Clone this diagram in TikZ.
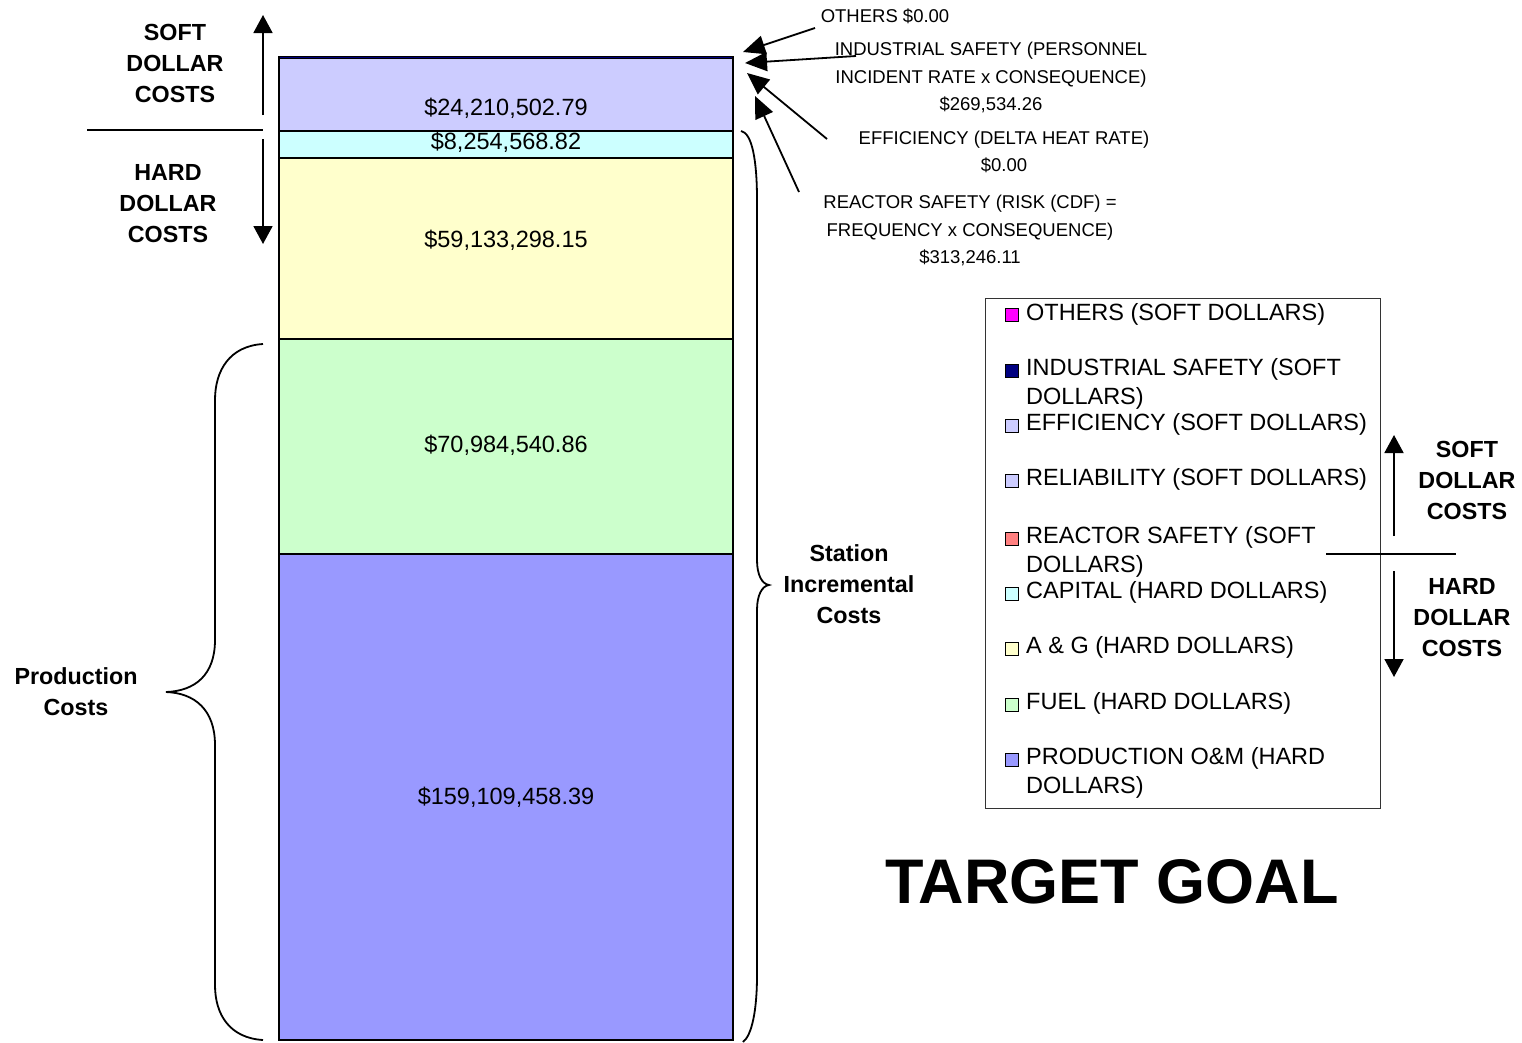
\documentclass[tikz,border=0pt]{standalone}
\usepackage{fontspec}
\setmainfont{Liberation Sans}
\usetikzlibrary{arrows.meta}

\definecolor{cOthers}{HTML}{FF00FF}
\definecolor{cIndSafety}{HTML}{000080}
\definecolor{cSoft}{HTML}{CCCCFF}
\definecolor{cReactor}{HTML}{FF8080}
\definecolor{cCapital}{HTML}{CCFFFF}
\definecolor{cAG}{HTML}{FFFFCC}
\definecolor{cFuel}{HTML}{CCFFCC}
\definecolor{cProdOM}{HTML}{9999FF}

\begin{document}
\begin{tikzpicture}[x=1pt,y=-1pt,
  seg/.style={draw=black, line width=1.6pt, inner sep=0pt, outer sep=0pt, minimum width=454pt},
  val/.style={font=\fontsize{23.5}{28}\selectfont, inner sep=0pt},
  note/.style={font=\fontsize{18.5}{27.5}\selectfont, align=center, inner sep=0pt},
  side/.style={font=\fontsize{23.3}{31}\selectfont\bfseries, align=center, inner sep=0pt},
  legtext/.style={font=\fontsize{23.5}{29}\selectfont, align=left, anchor=west, inner sep=0pt},
  mk/.style={draw=black, line width=1pt, minimum size=13pt, inner sep=0pt},
  pointer/.style={line width=1.8pt, -{Triangle[length=22pt,width=19pt]}},
  bigarrow/.style={line width=1.8pt, -{Triangle[length=18pt,width=19pt]}},
  rule/.style={line width=1.6pt},
  brace/.style={line width=1.8pt},
]
\useasboundingbox (0,0) rectangle (1522,1042);

% ---- stacked cost bar ----
\node[seg, fill=cProdOM, minimum height=486pt] (om) at (506,797) {};
\node[seg, fill=cFuel, minimum height=215pt] (fuel) at (506,446.5) {};
\node[seg, fill=cAG, minimum height=181pt] (ag) at (506,248.5) {};
\node[seg, fill=cCapital, minimum height=27pt] (cap) at (506,144.5) {};
\node[seg, fill=cSoft, minimum height=73pt] (soft) at (506,94.5) {};
\node[seg, fill=cIndSafety, minimum height=2pt] (thin) at (506,57.5) {};

\node[val] (vom) at (506,797) {\$159,109,458.39};
\node[val] (vfuel) at (506,445) {\$70,984,540.86};
\node[val] (vag) at (506,240) {\$59,133,298.15};
\node[val] (vcap) at (506,142) {\$8,254,568.82};
\node[val] (vsoft) at (506,108) {\$24,210,502.79};

% ---- soft / hard split on the left ----
\node[side] (lsoft) at (175,63) {SOFT\\DOLLAR\\COSTS};
\node[side] (lhard) at (168,204) {HARD\\DOLLAR\\COSTS};
\coordinate (lsplitA) at (87,130);
\coordinate (lsplitB) at (263,130);
\coordinate (lupFrom) at (263,115);
\coordinate (lupTo) at (263,15);
\coordinate (ldnFrom) at (263,139);
\coordinate (ldnTo) at (263,244);
\draw[rule] (lsplitA) -- (lsplitB);
\draw[bigarrow] (lupFrom) -- (lupTo);
\draw[bigarrow] (ldnFrom) -- (ldnTo);

% ---- production costs brace ----
\node[side] (prod) at (76,691.5) {Production\\Costs};
\draw[brace] (263,344) .. controls (230,346) and (215,370) .. (215,400)
  -- (215,640) .. controls (215,675) and (195,691) .. (166,692)
  .. controls (195,693) and (215,710) .. (215,745)
  -- (215,985) .. controls (215,1015) and (230,1038) .. (263,1040);

% ---- station incremental costs brace ----
\node[side] (station) at (849,584) {Station\\Incremental\\Costs};
\draw[brace] (741,131) .. controls (752,133) and (757,160) .. (757,200)
  -- (757,560) .. controls (757,575) and (762,584) .. (769,585)
  .. controls (762,586) and (757,595) .. (757,610)
  -- (757,975) .. controls (757,1010) and (752,1035) .. (743,1042);

% ---- soft dollar call-outs ----
\node[note] (nothers) at (885,16) {OTHERS \$0.00};
\node[note] (nind) at (991,77.5) {INDUSTRIAL SAFETY (PERSONNEL\\INCIDENT RATE x CONSEQUENCE)\\\$269,534.26};
\node[note] (neff) at (1004,152) {EFFICIENCY (DELTA HEAT RATE)\\\$0.00};
\node[note] (nreac) at (970,230.5) {REACTOR SAFETY (RISK (CDF) =\\FREQUENCY x CONSEQUENCE)\\\$313,246.11};

\coordinate (othersTail) at (815,28);
\coordinate (othersTip) at (743,52);
\coordinate (indTail) at (856,56);
\coordinate (indTip) at (745,63);
\coordinate (effTail) at (827,139);
\coordinate (effTip) at (747,73);
\coordinate (reacTail) at (799,192);
\coordinate (reacTip) at (755,96);
\draw[pointer] (othersTail) -- (othersTip);
\draw[pointer] (indTail) -- (indTip);
\draw[pointer] (effTail) -- (effTip);
\draw[pointer] (reacTail) -- (reacTip);

% ---- legend ----
\node[draw=black!80, line width=1pt, inner sep=0pt, minimum width=395pt, minimum height=510pt] (legend) at (1182.5,553) {};
\node[mk, fill=cOthers] (m1) at (1012,314.5) {};
\node[legtext] (t1) at (1026,314) {OTHERS (SOFT DOLLARS)};
\node[mk, fill=cIndSafety] (m2) at (1012,370.5) {};
\node[legtext] (t2) at (1026,383.5) {INDUSTRIAL SAFETY (SOFT\\DOLLARS)};
\node[mk, fill=cSoft] (m3) at (1012,425.5) {};
\node[legtext] (t3) at (1026,424) {EFFICIENCY (SOFT DOLLARS)};
\node[mk, fill=cSoft] (m4) at (1012,480.5) {};
\node[legtext] (t4) at (1026,479) {RELIABILITY (SOFT DOLLARS)};
\node[mk, fill=cReactor] (m5) at (1012,538.5) {};
\node[legtext] (t5) at (1026,551.5) {REACTOR SAFETY (SOFT\\DOLLARS)};
\node[mk, fill=cCapital] (m6) at (1012,593.5) {};
\node[legtext] (t6) at (1026,592) {CAPITAL (HARD DOLLARS)};
\node[mk, fill=cAG] (m7) at (1012,648.5) {};
\node[legtext] (t7) at (1026,647) {A \& G (HARD DOLLARS)};
\node[mk, fill=cFuel] (m8) at (1012,704.5) {};
\node[legtext] (t8) at (1026,703) {FUEL (HARD DOLLARS)};
\node[mk, fill=cProdOM] (m9) at (1012,759.5) {};
\node[legtext] (t9) at (1026,772.5) {PRODUCTION O\&M (HARD\\DOLLARS)};

% ---- soft / hard split on the right ----
\node[side] (rsoft) at (1467,480) {SOFT\\DOLLAR\\COSTS};
\node[side] (rhard) at (1462,618) {HARD\\DOLLAR\\COSTS};
\coordinate (rsplitA) at (1326,554);
\coordinate (rsplitB) at (1456,554);
\coordinate (rupFrom) at (1394,536);
\coordinate (rupTo) at (1394,435);
\coordinate (rdnFrom) at (1394,571);
\coordinate (rdnTo) at (1394,677);
\draw[rule] (rsplitA) -- (rsplitB);
\draw[bigarrow] (rupFrom) -- (rupTo);
\draw[bigarrow] (rdnFrom) -- (rdnTo);

% ---- title ----
\node[font=\fontsize{63}{70}\selectfont\bfseries, inner sep=0pt] (goal) at (1112,882) {TARGET GOAL};
\end{tikzpicture}
\end{document}
